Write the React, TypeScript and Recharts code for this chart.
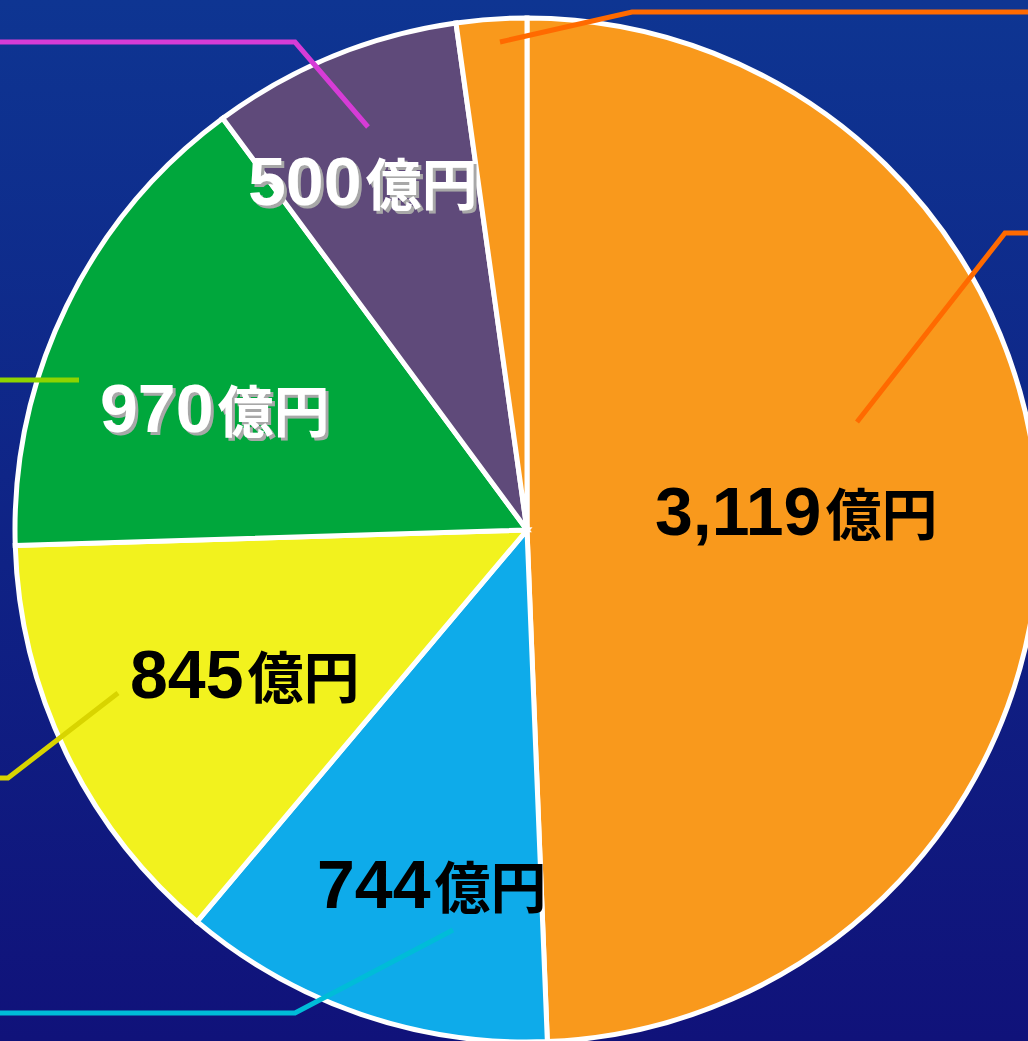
import React from 'react';
import { PieChart, Pie, Cell } from 'recharts';

const W = 1028;
const H = 1041;

// slices, clockwise from 12 o'clock
const names = ['A', 'B', 'C', 'D', 'E', 'F'];
const values = [3119, 744, 845, 970, 500, 140];
const labels = ['3,119', '744', '845', '970', '500', ''];
const unit = '億円';

const COLORS = ['#F9991C', '#0EABEA', '#F2F21E', '#00A73C', '#5F4A7A', '#F9991C'];
const LINE_COLORS = ['#FF6A00', '#00BCD8', '#D8D400', '#8ED400', '#D63CD6', '#FF6A00'];
const TEXT_COLORS = ['#000', '#000', '#000', '#fff', '#fff', '#000'];

// label anchor (start, baseline) relative to pie centre
const LABEL_POS: [number, number][] = [
  [128, 5],
  [-210, 378],
  [-397, 168],
  [-427, -98],
  [-279, -325],
  [0, 0],
];

// leader lines relative to centre, then run off to one edge
const LEADERS: { pts: [number, number][]; to: 'left' | 'right' }[] = [
  { pts: [[330, -108], [478, -297]], to: 'right' },
  { pts: [[-74, 400], [-232, 483]], to: 'left' },
  { pts: [[-409, 163], [-519, 248]], to: 'left' },
  { pts: [[-448, -150]], to: 'left' },
  { pts: [[-159, -403], [-232, -488]], to: 'left' },
  { pts: [[-27, -488], [105, -518]], to: 'right' },
];

const data = names.map((n, i) => ({ name: n, value: values[i] }));

const renderLabel = (props: any) => {
  const { cx, cy, index } = props;
  const ld = LEADERS[index];
  const pts = ld.pts.map(([dx, dy]) => [cx + dx, cy + dy]);
  const last = pts[pts.length - 1];
  pts.push([ld.to === 'left' ? -10 : W + 10, last[1]]);
  const path = pts.map((p, i) => `${i === 0 ? 'M' : 'L'}${p[0]},${p[1]}`).join(' ');
  const [lx, ly] = LABEL_POS[index];
  const white = TEXT_COLORS[index] === '#fff';
  return (
    <g key={`lbl-${index}`}>
      <path d={path} fill="none" stroke={LINE_COLORS[index]} strokeWidth={5} />
      {labels[index] !== '' && (
        <text
          x={cx + lx}
          y={cy + ly}
          fill={TEXT_COLORS[index]}
          filter={white ? 'url(#lblShadow)' : undefined}
        >
          <tspan fontFamily="'Liberation Sans', Arial, sans-serif" fontWeight="bold" fontSize={68}>
            {labels[index]}
          </tspan>
          <tspan fontFamily="'Noto Sans CJK JP', sans-serif" fontWeight="bold" fontSize={56} dx={4}>
            {unit}
          </tspan>
        </text>
      )}
    </g>
  );
};

export default function App() {
  return (
    <div
      style={{
        position: 'absolute',
        left: 0,
        top: 0,
        width: W,
        height: H,
        overflow: 'hidden',
        background: 'linear-gradient(to bottom, #0E3592 0%, #10127A 100%)',
      }}
    >
      <PieChart width={W} height={H} margin={{ top: 0, right: 0, bottom: 0, left: 0 }}>
        <defs>
          <filter id="lblShadow" x="-10%" y="-10%" width="130%" height="140%">
            <feDropShadow dx={3} dy={3} stdDeviation={0.6} floodColor="#a8a8a8" floodOpacity={1} />
          </filter>
        </defs>
        <Pie
          data={data}
          dataKey="value"
          cx={527}
          cy={530}
          outerRadius={512}
          startAngle={90}
          endAngle={-270}
          stroke="#ffffff"
          strokeWidth={5}
          label={renderLabel}
          labelLine={false}
          isAnimationActive={false}
        >
          {data.map((d, i) => (
            <Cell key={d.name} fill={COLORS[i]} />
          ))}
        </Pie>
      </PieChart>
    </div>
  );
}
